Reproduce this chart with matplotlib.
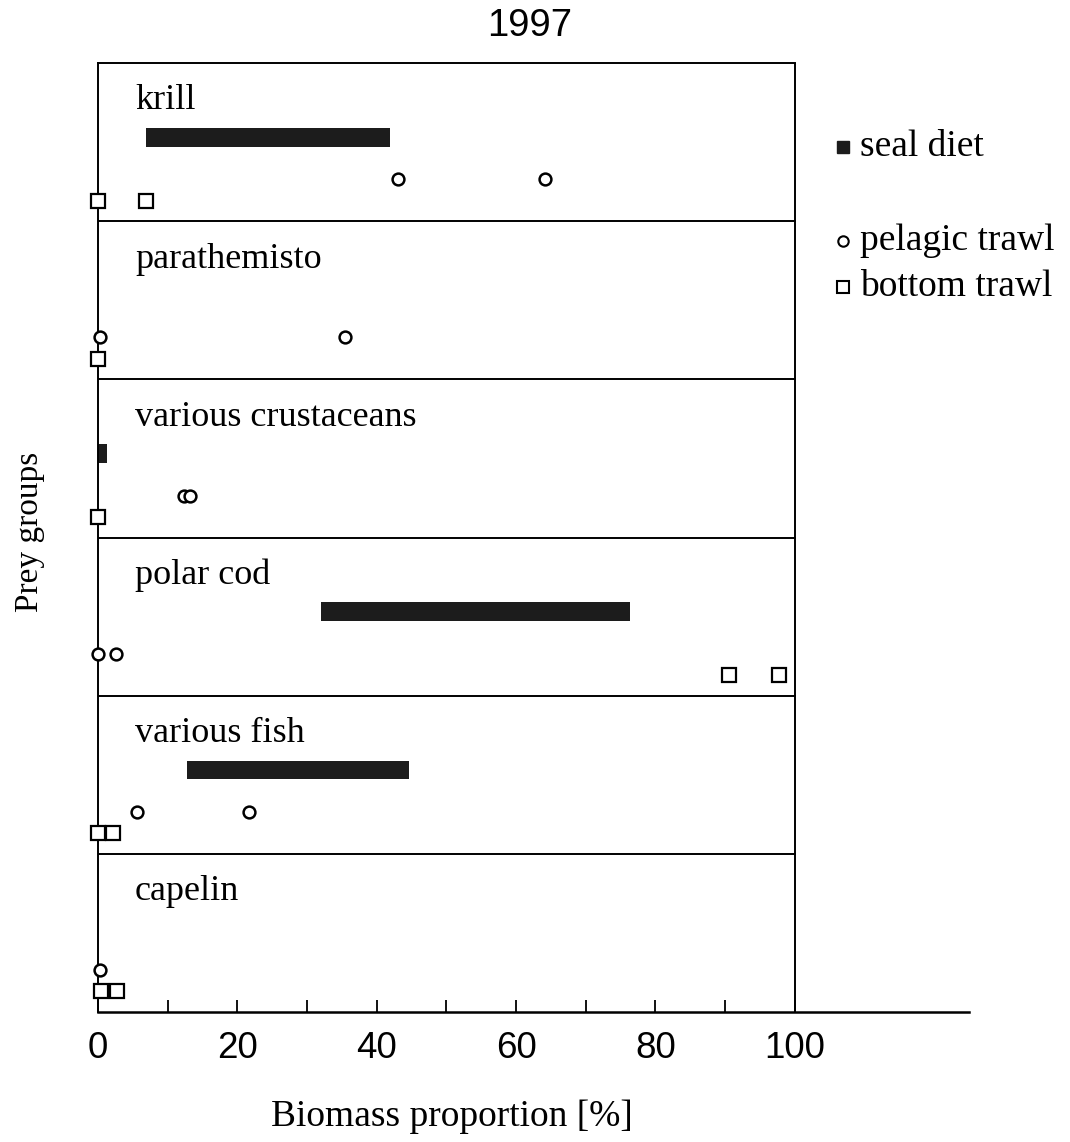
import matplotlib
matplotlib.use("Agg")
import matplotlib.pyplot as plt

# prey groups, top to bottom
groups = ["krill", "parathemisto", "various crustaceans", "polar cod", "various fish", "capelin"]

# seal diet range (start, end) in %, None = no bar
seal_diet = [(6.9, 41.9), None, (0.0, 1.3), (32.0, 76.4), (12.8, 44.6), None]

# trawl values in %
pelagic = [[43.0, 64.2], [0.3, 35.5], [12.3, 13.2], [0.0, 2.6], [5.6, 21.7], [0.3]]
bottom = [[0.0, 6.9], [0.0], [0.0], [90.5, 97.8], [0.0, 2.2], [0.4, 2.7]]

xticks_major = [0, 20, 40, 60, 80, 100]
xticks_minor = [10, 30, 50, 70, 90]

serif = "Liberation Serif"
sans = "Liberation Sans"

fig = plt.figure(figsize=(10.7, 11.42), dpi=100)
W, H = 1070, 1142
ax = fig.add_axes([98 / W, 1 - 1012 / H, (969 - 98) / W, (1012 - 63) / H])
n = len(groups)
ax.set_xlim(0, 125)
ax.set_ylim(0, n)

for i, g in enumerate(groups):
    top = n - i
    ax.text(5.3, top - 0.24, g, family=serif, fontsize=26, va="center", ha="left")
    if seal_diet[i] is not None:
        x0, x1 = seal_diet[i]
        ax.barh(top - 0.47, x1 - x0, left=x0, height=0.12, color="#1c1c1c", clip_on=False)
    ax.plot(pelagic[i], [top - 0.735] * len(pelagic[i]), "o", ms=8.5, mfc="white",
            mec="black", mew=1.8, clip_on=False, zorder=5)
    ax.plot(bottom[i], [top - 0.87] * len(bottom[i]), "s", ms=9.5, mfc="white",
            mec="black", mew=1.6, clip_on=False, zorder=5)
    if i > 0:
        ax.plot([0, 100], [top, top], color="black", lw=1.4)

ax.plot([0, 100], [n, n], color="black", lw=1.4, clip_on=False)
ax.plot([100, 100], [0, n], color="black", lw=1.4)

for s in ["top", "right"]:
    ax.spines[s].set_visible(False)
ax.spines["left"].set_linewidth(1.4)
ax.spines["bottom"].set_linewidth(1.8)
ax.set_yticks([])
ax.set_xticks(xticks_major)
ax.set_xticks(xticks_minor, minor=True)
ax.set_xticklabels([str(v) for v in xticks_major], family=sans, fontsize=26.5)
ax.tick_params(axis="x", which="both", direction="in", length=9, width=1.3, pad=14)

fig.text(530 / W, 1 - 26 / H, "1997", family=sans, fontsize=27.5, ha="center", va="center")
fig.text(30 / W, 1 - 532 / H, "Prey groups", family=serif, fontsize=24, rotation=90,
         ha="center", va="center")
fig.text(452 / W, 1 - 1117 / H, "Biomass proportion [%]", family=serif, fontsize=27,
         ha="center", va="center")

# legend
leg_x = (843 - 98) / 6.97
ax.plot([leg_x], [n - (147 - 63) / 158.2], "s", ms=9, color="#1c1c1c", clip_on=False)
ax.plot([leg_x], [n - (241 - 63) / 158.2], "o", ms=7.5, mfc="white", mec="black", mew=1.5, clip_on=False)
ax.plot([leg_x], [n - (287 - 63) / 158.2], "s", ms=8, mfc="white", mec="black", mew=1.5, clip_on=False)
for label, yp in [("seal diet", 147), ("pelagic trawl", 241), ("bottom trawl", 287)]:
    fig.text(860 / W, 1 - yp / H, label, family=serif, fontsize=27, ha="left", va="center")

fig.savefig("out.png", dpi=100)
